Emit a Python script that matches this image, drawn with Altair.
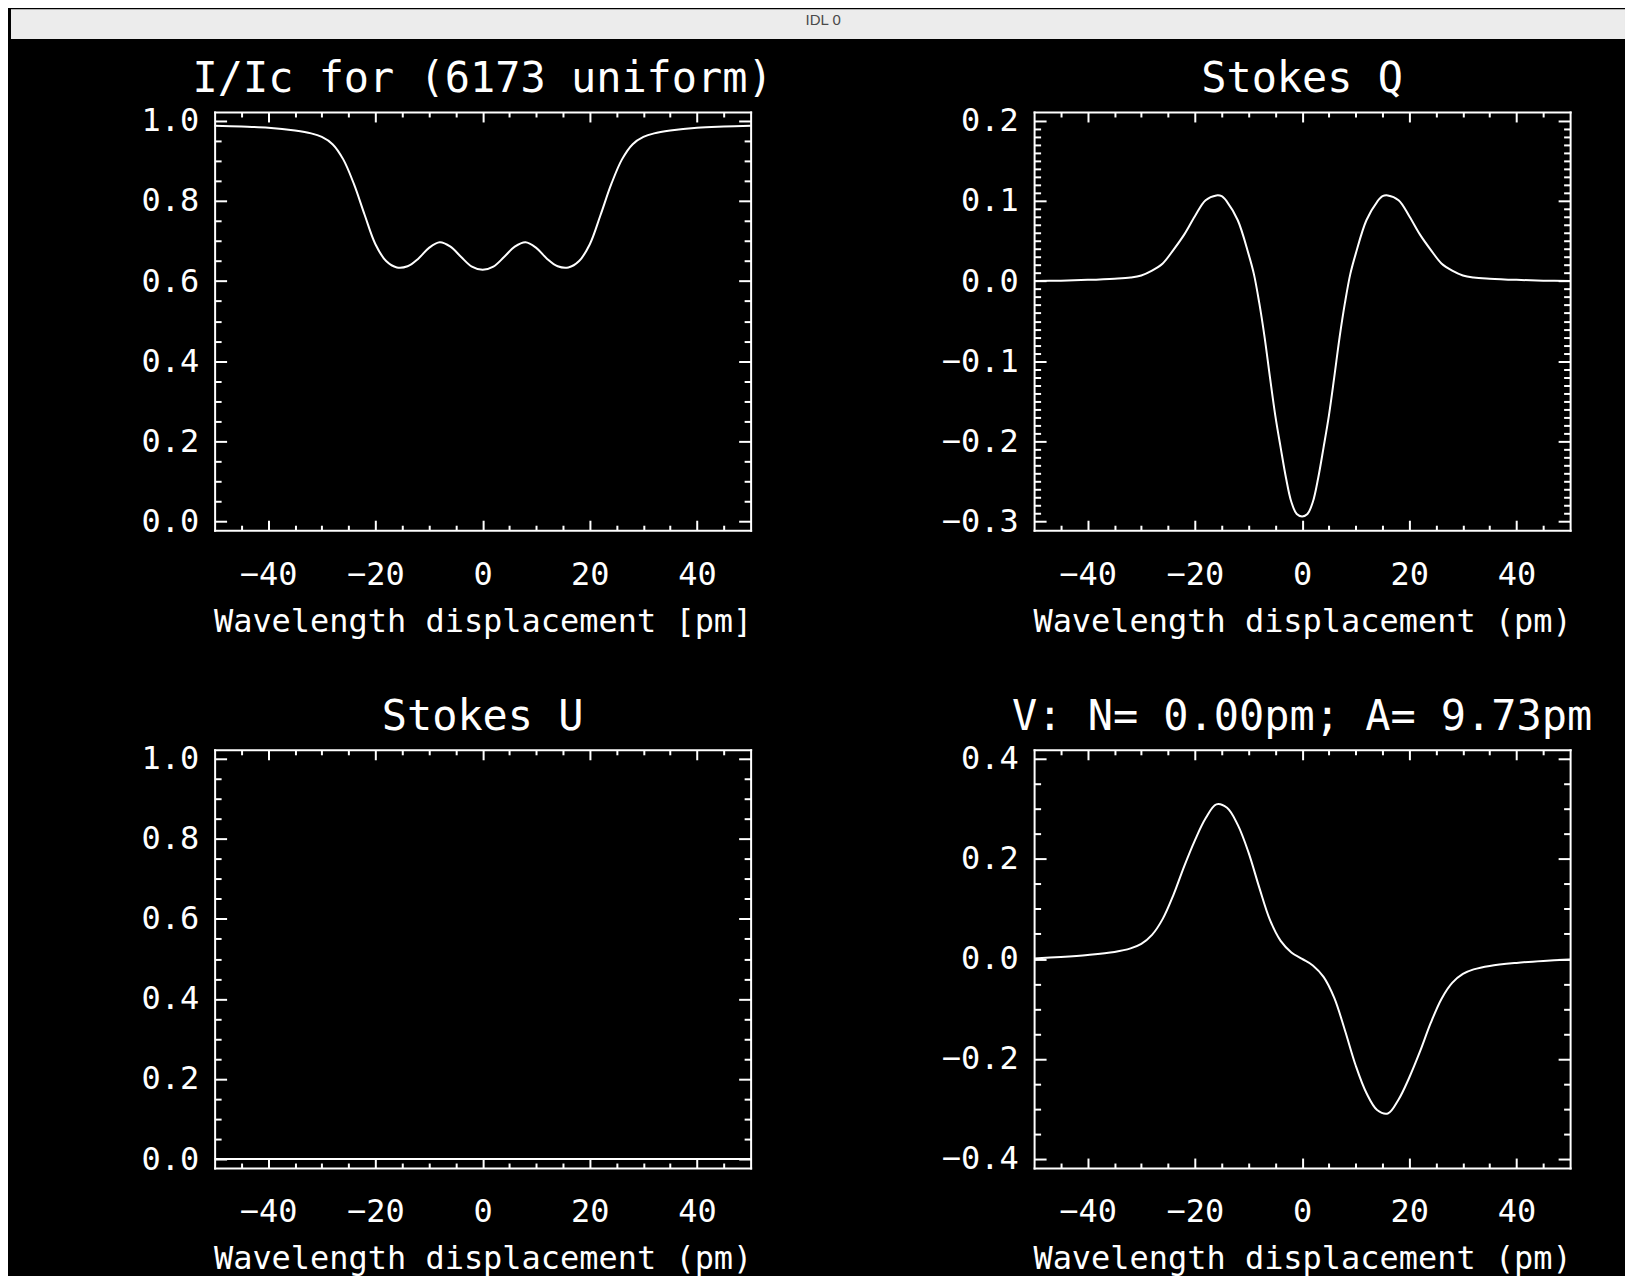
import altair as alt
import pandas as pd

# ---------------- data ----------------
X_MAJOR = [-40, -20, 0, 20, 40]
X_MINOR = [-45, -35, -30, -25, -15, -10, -5, 5, 10, 15, 25, 30, 35, 45]

grid_x = [-50, -45, -40, -35, -32, -30, -28, -26, -24, -22, -20, -18, -16, -14, -12, -10, -8, -6, -4, -2, 0,
          2, 4, 6, 8, 10, 12, 14, 16, 18, 20, 22, 24, 26, 28, 30, 32, 35, 40, 45, 50]

i_vals = [0.988, 0.986, 0.983, 0.976, 0.969, 0.960, 0.942, 0.904, 0.842, 0.765, 0.692, 0.650, 0.634, 0.637,
          0.656, 0.683, 0.697, 0.686, 0.660, 0.636, 0.628,
          0.636, 0.660, 0.686, 0.697, 0.683, 0.656, 0.637, 0.634, 0.650, 0.692, 0.765, 0.842, 0.904,
          0.942, 0.960, 0.969, 0.976, 0.983, 0.986, 0.988]

q_x = [-50, -45, -40, -35, -32, -30, -28, -26, -24, -22, -20, -18, -16, -15, -14, -12, -10, -9, -8, -7, -6,
       -5, -4, -3, -2, -1, 0, 1, 2, 3, 4, 5, 6, 7, 8, 9, 10, 12, 14, 15, 16, 18, 20, 22, 24, 26, 28, 30,
       32, 35, 40, 45, 50]
q_vals = [0.0, 0.0005, 0.0015, 0.003, 0.0045, 0.007, 0.013, 0.022, 0.039, 0.058, 0.081, 0.101, 0.107,
          0.106, 0.099, 0.076, 0.034, 0.009, -0.027, -0.070, -0.120, -0.168, -0.208, -0.246, -0.276,
          -0.291, -0.294, -0.291, -0.276, -0.246, -0.208, -0.168, -0.120, -0.070, -0.027, 0.009, 0.034,
          0.076, 0.099, 0.106, 0.107, 0.101, 0.081, 0.058, 0.039, 0.022, 0.013, 0.007, 0.0045, 0.003,
          0.0015, 0.0005, 0.0]

u_vals = [0.0] * len(grid_x)

v_vals = [0.001, 0.004, 0.008, 0.014, 0.021, 0.030, 0.048, 0.080, 0.128, 0.185, 0.237, 0.281, 0.309, 0.302,
          0.268, 0.213, 0.143, 0.078, 0.036, 0.013, 0.0,
          -0.013, -0.036, -0.078, -0.143, -0.213, -0.268, -0.302, -0.309, -0.281, -0.237, -0.185, -0.128,
          -0.080, -0.048, -0.030, -0.021, -0.014, -0.008, -0.004, -0.001]

I_MAJOR = [0.0, 0.2, 0.4, 0.6, 0.8, 1.0]
I_MINOR = [0.05, 0.1, 0.15, 0.25, 0.3, 0.35, 0.45, 0.5, 0.55, 0.65, 0.7, 0.75, 0.85, 0.9, 0.95]
Q_MAJOR = [-0.3, -0.2, -0.1, 0.0, 0.1, 0.2]
Q_MINOR = [round(-0.3 + 0.01 * k, 2) for k in range(51) if k % 10 != 0]
V_MAJOR = [-0.4, -0.2, 0.0, 0.2, 0.4]
V_MINOR = [-0.35, -0.3, -0.25, -0.15, -0.1, -0.05, 0.05, 0.1, 0.15, 0.25, 0.3, 0.35]

TITLES = ["I/Ic for (6173 uniform)", "Stokes Q", "Stokes U", "V: N= 0.00pm; A= 9.73pm"]
XTITLES = ["Wavelength displacement [pm]", "Wavelength displacement (pm)",
           "Wavelength displacement (pm)", "Wavelength displacement (pm)"]

# ---------------- layout / style ----------------
W, H = 537, 419
FONT = "DejaVu Sans Mono"


def panel(xs_, vs_, title, ydom, ymaj, ymin, xtitle):
    df = pd.DataFrame({"x": xs_, "v": vs_})
    xs = alt.Scale(domain=[-50, 50], nice=False, zero=False)
    ys = alt.Scale(domain=ydom, nice=False, zero=False)
    base = alt.Chart(df)

    main = base.mark_line(color="white", strokeWidth=2, interpolate="catmull-rom").encode(
        x=alt.X("x:Q", scale=xs,
                axis=alt.Axis(orient="bottom", values=X_MAJOR, ticks=False, domain=False, grid=False,
                              labelPadding=29, format="d", title=xtitle, titleY=76,
                              titleBaseline="top")),
        y=alt.Y("v:Q", scale=ys,
                axis=alt.Axis(orient="left", values=ymaj, ticks=False, domain=False, grid=False,
                              labelPadding=16, format=".1f", title=None)),
    )

    def ticks(xo, yo, xv, yv, xsz, ysz, dom):
        return base.mark_line(opacity=0).encode(
            x=alt.X("x:Q", scale=xs,
                    axis=alt.Axis(orient=xo, offset=-H, values=xv, tickSize=xsz, labels=False,
                                  domain=dom, grid=False, title=None, domainCap="square")),
            y=alt.Y("v:Q", scale=ys,
                    axis=alt.Axis(orient=yo, offset=-W, values=yv, tickSize=ysz, labels=False,
                                  domain=dom, grid=False, title=None, domainCap="square")),
        )

    layers = [
        main,
        ticks("top", "right", X_MAJOR, ymaj, 10, 12, True),
        ticks("top", "right", X_MINOR, ymin, 5, 6.5, False),
        ticks("bottom", "left", X_MAJOR, ymaj, 10, 12, True),
        ticks("bottom", "left", X_MINOR, ymin, 5, 6.5, False),
    ]
    return alt.layer(*layers).resolve_axis(x="independent", y="independent").properties(
        width=W, height=H,
        title=alt.TitleParams(text=title, fontSize=42, color="white", font=FONT, fontWeight="normal",
                              anchor="middle", frame="group", baseline="alphabetic", offset=-29),
    )


def spacer(w, h):
    return alt.Chart(alt.Data(values=[{"a": 1}])).mark_point(opacity=0).properties(width=w, height=h)


p1 = panel(grid_x, i_vals, TITLES[0], [-0.0224, 1.0224], I_MAJOR, I_MINOR, XTITLES[0])
p2 = panel(q_x, q_vals, TITLES[1], [-0.3112, 0.2112], Q_MAJOR, Q_MINOR, XTITLES[1])
p3 = panel(grid_x, u_vals, TITLES[2], [-0.0224, 1.0224], I_MAJOR, I_MINOR, XTITLES[2])
p4 = panel(grid_x, v_vals, TITLES[3], [-0.418, 0.418], V_MAJOR, V_MINOR, XTITLES[3])

strip = alt.Chart(alt.Data(values=[{"t": "IDL 0"}])).mark_text(
    fontSize=15, color="#4a4a4a", font="Liberation Sans", align="left", baseline="middle"
).encode(text="t:N", x=alt.value(796), y=alt.value(11)).properties(
    width=1617, height=30, view=alt.ViewBackground(fill="#ececec", strokeWidth=0)
)

row1 = alt.hconcat(spacer(204, 1), p1, spacer(284, 1), p2, spacing=0, bounds="flush")
row2 = alt.hconcat(spacer(204, 1), p3, spacer(284, 1), p4, spacing=0, bounds="flush")

# nested rows take no height in the flush layout, so the second spacer spans row 1 plus the gap
chart = alt.vconcat(strip, spacer(1, 73), row1, spacer(1, 639), row2, spacing=0, bounds="flush").properties(
    background="black",
    padding={"left": 0, "top": 0, "right": 0, "bottom": 0},
).configure_view(strokeWidth=0).configure_axis(
    labelColor="white", titleColor="white", labelFont=FONT, titleFont=FONT,
    labelFontSize=32, titleFontSize=32, labelFontWeight="normal", titleFontWeight="normal",
    tickColor="white", domainColor="white", tickWidth=2, domainWidth=2, grid=False,
)

chart.save("out.html", embed_options={"renderer": "svg", "actions": False})
